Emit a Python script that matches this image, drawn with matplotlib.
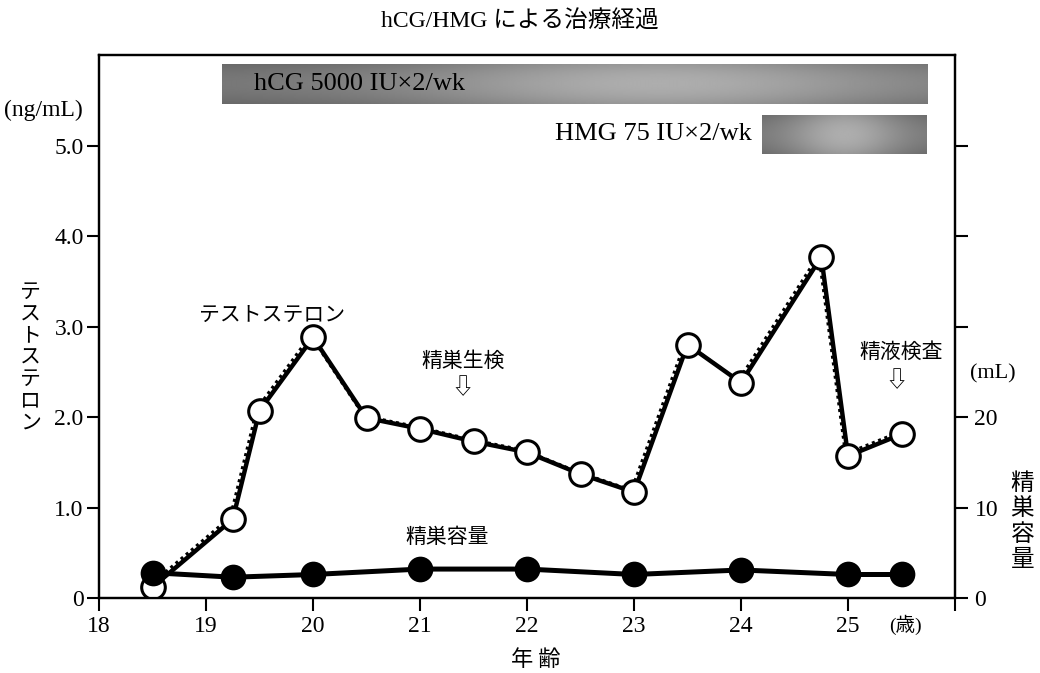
import matplotlib as mpl
import matplotlib.pyplot as plt
import matplotlib.transforms as mtransforms
import numpy as np

mpl.use('Agg')

SERIF = ['Liberation Serif', 'Noto Sans CJK JP', 'DejaVu Sans']
JP = ['Noto Sans CJK JP', 'DejaVu Sans']

# testosterone (ng/mL), open circles
t_age = [18.5, 19.25, 19.5, 20.0, 20.5, 21.0, 21.5, 22.0, 22.5, 23.0, 23.5, 24.0, 24.75, 25.0, 25.5]
t_val = [0.12, 0.87, 2.07, 2.88, 1.99, 1.87, 1.73, 1.61, 1.37, 1.17, 2.80, 2.38, 3.77, 1.57, 1.81]

# testis volume (mL), filled circles
v_age = [18.5, 19.25, 20.0, 21.0, 22.0, 23.0, 24.0, 25.0, 25.5]
v_val = [2.8, 2.3, 2.6, 3.2, 3.2, 2.6, 3.1, 2.6, 2.6]

# treatment periods: (label, start age, end age, bottom, top) in ng/mL units
hcg_bar = ('hCG 5000 IU\u00d72/wk', 19.15, 25.74, 5.46, 5.90)
hmg_bar = ('HMG 75 IU\u00d72/wk', 24.2, 25.74, 4.91, 5.34)

x_ticks = [18, 19, 20, 21, 22, 23, 24, 25, 26]
x_labels = ['18', '19', '20', '21', '22', '23', '24', '25', '']
yl_ticks = [0, 1, 2, 3, 4, 5]
yl_labels = ['0', '1.0', '2.0', '3.0', '4.0', '5.0']
yr_ticks = [0, 10, 20, 30, 40, 50]
yr_labels = ['0', '10', '20', '', '', '']


def draw_bar(ax, start, end, bottom, top, peak):
    # grey band, lighter towards its middle like the printed screen tone
    xs = np.linspace(0, 1, 300)
    ys = np.linspace(-1, 1, 40)
    horiz = 0.46 + 0.22 * np.exp(-((xs - peak) / 0.35) ** 2)
    vert = 1.0 - 0.12 * ys ** 2
    img = np.outer(vert, horiz)
    ax.imshow(img, cmap='gray', vmin=0, vmax=1, aspect='auto',
              extent=(start, end, bottom, top), zorder=1, interpolation='bilinear')


fig = plt.figure(figsize=(10.4, 6.73), dpi=100)
ax = fig.add_axes([0.0952, 0.1114, 0.8231, 0.8068])
ax2 = ax.twinx()

ax.set_xlim(18, 26)
ax.set_ylim(0, 6)
ax2.set_ylim(0, 60)

for a in (ax, ax2):
    for sp in a.spines.values():
        sp.set_linewidth(1.6)
    a.tick_params(width=1.5, length=9, direction='out')

ax.set_xticks(x_ticks)
ax.set_xticklabels(x_labels, family=SERIF, fontsize=17)
ax.set_yticks(yl_ticks)
ax.set_yticklabels(yl_labels, family=SERIF, fontsize=17)
ax2.set_yticks(yr_ticks)
ax2.set_yticklabels(yr_labels, family=SERIF, fontsize=17)
ax.tick_params(axis='x', pad=4)
ax.tick_params(axis='y', pad=2)
ax2.tick_params(axis='y', pad=5)

# bars
draw_bar(ax, *hcg_bar[1:], peak=0.62)
draw_bar(ax, *hmg_bar[1:], peak=0.5)
ax.text(hcg_bar[1] + 0.3, (hcg_bar[3] + hcg_bar[4]) / 2, hcg_bar[0],
        family=SERIF, fontsize=19, va='center', ha='left', zorder=2)
ax.text(hmg_bar[1] - 0.1, (hmg_bar[3] + hmg_bar[4]) / 2, hmg_bar[0],
        family=SERIF, fontsize=19, va='center', ha='right', zorder=2)
ax.set_aspect('auto')
ax.set_xlim(18, 26)
ax.set_ylim(0, 6)

# testosterone: printed line with a dotted shadow beside it
shadow = mtransforms.offset_copy(ax.transData, fig=fig, x=-2.5, y=2, units='dots')
ax.plot(t_age, t_val, color='black', lw=2.2, ls=(0, (1, 1.2)), transform=shadow, zorder=3)
ax.plot(t_age, t_val, color='black', lw=3.2, zorder=4,
        marker='o', ms=17, mfc='white', mec='black', mew=2.2)

# volume
ax2.plot(v_age, v_val, color='black', lw=3.6, zorder=5,
         marker='o', ms=17, mfc='black', mec='black', mew=1.5)
ax2.set_zorder(ax.get_zorder() + 1)
ax2.patch.set_visible(False)

# annotations
ax.text(19.62, 3.13, 'テストステロン', family=JP, fontsize=15, ha='center', va='center')
ax.text(21.4, 2.62, '精巣生検', family=JP, fontsize=15, ha='center', va='center')
ax.text(21.4, 2.32, '\u21e9', family=JP, fontsize=16, ha='center', va='center')
ax.text(25.5, 2.72, '精液検査', family=JP, fontsize=15, ha='center', va='center')
ax.text(25.45, 2.4, '\u21e9', family=JP, fontsize=16, ha='center', va='center')
ax.text(21.25, 0.68, '精巣容量', family=JP, fontsize=15, ha='center', va='center')

fig.text(0.004, 0.836, '(ng/mL)', family=SERIF, fontsize=17, ha='left', va='center')
fig.text(0.029, 0.469, '\n'.join('テストステロン'), family=JP, fontsize=15,
         ha='center', va='center', linespacing=0.98)
fig.text(0.955, 0.444, '(mL)', family=SERIF, fontsize=16, ha='center', va='center')
fig.text(0.983, 0.225, '\n'.join('精巣容量'), family=JP, fontsize=17,
         ha='center', va='center', linespacing=1.12)
fig.text(0.871, 0.071, '(歳)', family=SERIF, fontsize=14, ha='center', va='center')
fig.text(0.515, 0.020, '年 齢', family=JP, fontsize=16, ha='center', va='center')
fig.text(0.5, 0.968, 'hCG/HMG による治療経過', family=SERIF, fontsize=17, ha='center', va='center')

fig.savefig('out.png', dpi=100)
